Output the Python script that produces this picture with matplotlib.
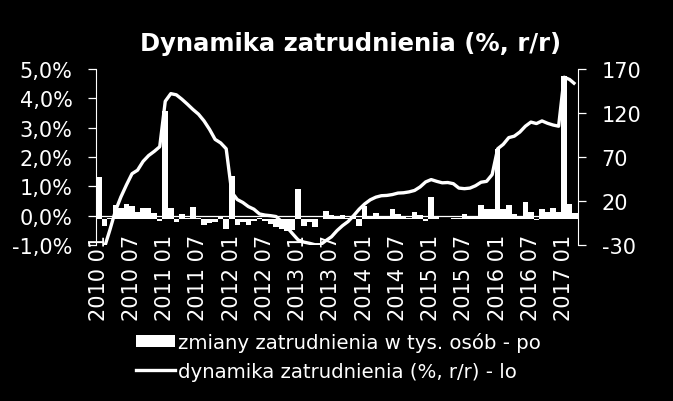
import numpy as np
import matplotlib
matplotlib.use("Agg")
import matplotlib.pyplot as plt
from matplotlib.patches import Patch
from matplotlib.lines import Line2D

# monthly data 2010 01 .. 2017 03
employment_change = [47.5, -8, 0.5, 15, 12, 17, 14, 7, 12, 12,
                     6, -3, 122, 12, -4, 5, 1, 13, 0.5, -7,
                     -5, -4, 3, -12, 48, -7, -4, -7, -3, 0.5,
                     -3, -6, -10, -12, -14, -13, 33.5, -8, -4, -10,
                     -1, 9, 4, 2, 4.5, 1, 2, -8, 14.5, 2,
                     6, 2, 2, 11, 5, 2, 1, 7, 4.5, -2.5,
                     25, 2, -1, -1, 0.5, 1, 5.5, 3, 3, 15,
                     11, 11, 79, 11, 15, 5, 3, 19, 8, -2,
                     11, 7, 12, 7, 162, 16.5, 6]
employment_yoy = [-1.6, -1.1, -0.49, 0.16, 0.64, 1.05, 1.43, 1.55, 1.85, 2.05,
                  2.19, 2.35, 3.9, 4.16, 4.12, 3.97, 3.80, 3.62, 3.46, 3.23,
                  2.94, 2.60, 2.48, 2.28, 0.80, 0.55, 0.45, 0.31, 0.22, 0.06,
                  0.02, 0.0, -0.03, -0.2, -0.4, -0.62, -0.83, -0.90, -0.94, -0.99,
                  -0.99, -0.85, -0.72, -0.51, -0.34, -0.20, 0.0, 0.22, 0.40, 0.54,
                  0.63, 0.68, 0.69, 0.72, 0.77, 0.78, 0.81, 0.86, 0.98, 1.15,
                  1.23, 1.17, 1.12, 1.13, 1.09, 0.94, 0.92, 0.94, 1.02, 1.14,
                  1.17, 1.40, 2.28, 2.43, 2.66, 2.71, 2.85, 3.05, 3.19, 3.14,
                  3.23, 3.15, 3.09, 3.05, 4.72, 4.64, 4.48]
x_tick_labels = ["2010 01", "2010 07", "2011 01", "2011 07", "2012 01", "2012 07",
                 "2013 01", "2013 07", "2014 01", "2014 07", "2015 01", "2015 07",
                 "2016 01", "2016 07", "2017 01"]
left_ticks = [-1, 0, 1, 2, 3, 4, 5]
left_labels = ["-1,0%", "0,0%", "1,0%", "2,0%", "3,0%", "4,0%", "5,0%"]
right_ticks = [-30, 20, 70, 120, 170]
right_labels = ["-30", "20", "70", "120", "170"]
title = "Dynamika zatrudnienia (%, r/r)"
bar_label = "zmiany zatrudnienia w tys. osób - po"
line_label = "dynamika zatrudnienia (%, r/r) - lo"

plt.rcParams['font.family'] = ['DejaVu Sans']
W, H = 673, 402
fig = plt.figure(figsize=(W / 100, H / 100), dpi=100, facecolor='black')
ax = fig.add_axes([96 / W, 1 - 246 / H, (578 - 96) / W, 176 / H])
ax2 = ax.twinx()
ax.set_zorder(ax2.get_zorder() + 1)
ax.patch.set_visible(False)
ax2.patch.set_facecolor('black')

x = np.arange(len(employment_change))
ax2.bar(x, employment_change, width=1.0, color='white', linewidth=0)
ax.plot(x, employment_yoy, color='white', lw=2.4, solid_joinstyle='round',
        solid_capstyle='butt')
ax.axhline(0, color='white', lw=0.9)

ax.set_xlim(-0.5, len(x) - 0.5)
ax.set_ylim(-1, 5)
ax2.set_ylim(-30, 170)

for a in (ax, ax2):
    for s in ('top', 'bottom'):
        a.spines[s].set_visible(False)
ax.spines['left'].set_color('white')
ax.spines['right'].set_visible(False)
ax2.spines['right'].set_color('white')
ax2.spines['left'].set_visible(False)

ax.set_yticks(left_ticks)
ax.set_yticklabels(left_labels)
ax2.set_yticks(right_ticks)
ax2.set_yticklabels(right_labels)
for a in (ax, ax2):
    a.tick_params(axis='y', direction='out', length=6, width=0.9, colors='white',
                  labelsize=15, pad=11)

ax.set_xticks(x[::6])
ax.set_xticklabels(x_tick_labels, rotation=90)
ax.tick_params(axis='x', length=0, colors='white', labelsize=15, pad=-8)

fig.text(351 / W, 1 - 51 / H, title, color='white', fontsize=17.5, fontweight='bold',
         ha='center', va='baseline')

handles = [Patch(facecolor='white', edgecolor='none'),
           Line2D([0], [0], color='white', lw=2.4)]
fig.legend(handles, [bar_label, line_label], loc='upper left',
           bbox_to_anchor=(136 / W, 1 - 333 / H), frameon=False, fontsize=14.2,
           handlelength=2.0, handleheight=0.6, handletextpad=0.15,
           labelspacing=0.5, borderpad=0, borderaxespad=0, labelcolor='white')

fig.savefig('out.png', dpi=100, facecolor='black')
